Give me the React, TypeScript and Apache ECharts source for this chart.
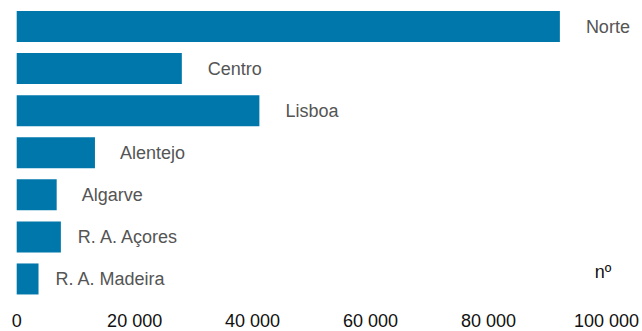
import React, { useEffect, useRef } from "react";
import * as echarts from "echarts";

const categories = ["Norte", "Centro", "Lisboa", "Alentejo", "Algarve", "R. A. Açores", "R. A. Madeira"];
const values = [92100, 28000, 41150, 13270, 6780, 7490, 3700];
const labelGaps = [26, 26, 26, 25, 25, 17, 17];
const unitLabel = "nº";

const fmt = (n: number) => String(n).replace(/\B(?=(\d{3})+(?!\d))/g, " ");

export default function App() {
  const ref = useRef<HTMLDivElement>(null);
  useEffect(() => {
    document.body.style.margin = "0";
    const chart = echarts.init(ref.current!, undefined, { renderer: "svg" });
    chart.setOption({
      animation: false,
      textStyle: { fontFamily: "Liberation Sans, Arial, sans-serif" },
      grid: { left: 16.7, right: 35.3, top: 5.5, bottom: 31, containLabel: false },
      xAxis: {
        type: "value",
        min: 0,
        max: 100000,
        interval: 20000,
        axisLine: { show: false },
        axisTick: { show: false },
        splitLine: { show: false },
        axisLabel: { fontSize: 18, color: "#111", margin: 12, formatter: (v: number) => fmt(v) },
      },
      yAxis: {
        type: "category",
        data: categories,
        inverse: true,
        axisLine: { show: false },
        axisTick: { show: false },
        axisLabel: { show: false },
      },
      series: [
        {
          type: "bar",
          data: values.map((v, i) => ({
            value: v,
            label: { distance: labelGaps[i] },
          })),
          barWidth: 31,
          itemStyle: { color: "#0077AB" },
          label: {
            show: true,
            position: "right",
            fontSize: 18,
            color: "#555",
            formatter: (p: any) => categories[p.dataIndex],
          },
        },
      ],
      graphic: [
        {
          type: "text",
          x: 603,
          y: 272,
          style: { text: unitLabel, fontSize: 18, fill: "#111", textAlign: "center", textVerticalAlign: "middle", fontFamily: "Liberation Sans, Arial, sans-serif" },
        },
      ],
    });
    return () => chart.dispose();
  }, []);
  return <div ref={ref} style={{ width: 642, height: 331 }} />;
}
